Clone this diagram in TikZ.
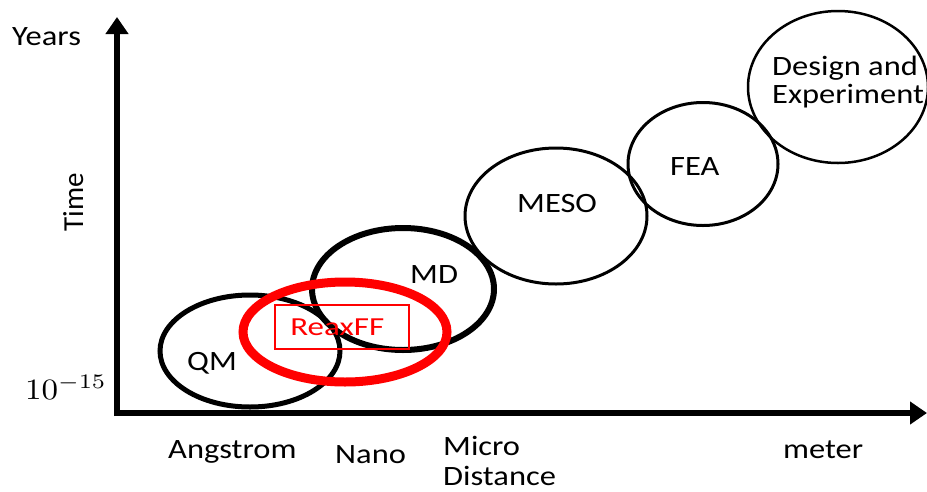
\documentclass[tikz,border=0pt]{standalone}
\usepackage{fontspec}
\setmainfont{Carlito}
\usetikzlibrary{arrows.meta,shapes.geometric}
\definecolor{rxred}{RGB}{255,0,0}
\begin{document}
\begin{tikzpicture}[x=1pt,y=-1pt,
  lbl/.style={font=\fontsize{28}{30}\selectfont, inner sep=0pt, xscale=1.16, transform shape, anchor=base west},
  ell/.style={draw=black, ellipse, inner sep=0pt},
  axis/.style={line width=5.5pt, -{Triangle[length=17pt,width=22pt]}}]
\useasboundingbox (0,0) rectangle (927,491);
% ellipses
\node[ell, line width=5pt, minimum width=180pt, minimum height=112pt] (qm) at (250,351) {};
\node[ell, line width=6pt, minimum width=182pt, minimum height=122pt] (md) at (403,289) {};
\node[ell, line width=3pt, minimum width=182pt, minimum height=136pt] (meso) at (556,216) {};
\node[ell, line width=3pt, minimum width=150pt, minimum height=123pt] (fea) at (703,164) {};
\node[ell, line width=2.5pt, minimum width=180pt, minimum height=152pt] (des) at (838,87) {};
\node[ell, draw=rxred, line width=9pt, minimum width=204pt, minimum height=100pt] (rx) at (345,332) {};
% labels in ellipses
\node[lbl] (qmt) at (187,370) {QM};
\node[lbl] (mdt) at (410,283) {MD};
\node[lbl] (mesot) at (517,212) {MESO};
\node[lbl] (feat) at (670,175) {FEA};
\node[lbl, font=\fontsize{28}{28}\selectfont, align=left] (dest) at (772,103) {Design and\\Experiment};
\node[draw=rxred, line width=1.2pt, minimum width=134pt, minimum height=44pt, inner sep=0pt] (rxbox) at (342,327) {};
\node[text=rxred, font=\fontsize{26}{30}\selectfont, inner sep=0pt, xscale=1.27, transform shape, anchor=base west] (rxt) at (290,335) {ReaxFF};
% axes
\coordinate (ybot) at (117,416);
\coordinate (ytip) at (117,17);
\coordinate (xleft) at (114,413);
\coordinate (xtip) at (927,413);
\draw[axis] (ybot) -- (ytip);
\draw[axis] (xleft) -- (xtip);
% axis labels
\node[lbl] (years) at (12,45) {Years};
\node[font=\fontsize{29}{30}\selectfont, inner sep=0pt, rotate=90, anchor=base] (time) at (83,202) {Time};
\node[inner sep=0pt, anchor=base west] (ten) at (25,399) {\scalebox{3.3}[2.95]{$10^{-15}$}};
\node[lbl] (ang) at (168,458) {Angstrom};
\node[lbl] (nano) at (335,463) {Nano};
\node[lbl, align=left] (micro) at (443,485) {Micro\\Distance};
\node[lbl] (meter) at (783,458) {meter};
\end{tikzpicture}
\end{document}
